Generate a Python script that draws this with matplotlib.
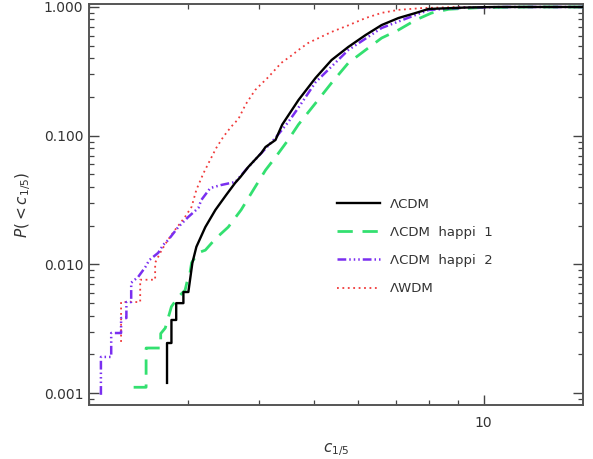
import numpy as np
import matplotlib
matplotlib.use("Agg")
import matplotlib.pyplot as plt
from matplotlib.ticker import FixedLocator, NullFormatter, FormatStrFormatter

# cumulative fractions, (c_1/5, P) pairs
black_x = [2.75, 2.75, 2.80, 2.80, 2.855, 2.855, 2.94, 2.94, 3.00, 3.05, 3.10, 3.215, 3.35, 3.50,
           3.63, 3.71, 3.83, 4.04, 4.11, 4.28, 4.40, 4.70, 5.04, 5.38, 5.76, 6.18, 6.60, 7.07,
           7.58, 7.99, 9.29, 10.6, 15.0]
black_y = [0.00120, 0.00245, 0.00245, 0.0037, 0.0037, 0.0050, 0.0050, 0.0061, 0.0061, 0.0103,
           0.0137, 0.0195, 0.0265, 0.0346, 0.0429, 0.0478, 0.0571, 0.0734, 0.0817, 0.0926,
           0.122, 0.189, 0.281, 0.387, 0.489, 0.605, 0.724, 0.821, 0.898, 0.965, 0.99, 1.0, 1.0]

green_x = [2.40, 2.525, 2.525, 2.68, 2.68, 2.73, 2.80, 2.88, 2.96, 2.99, 3.02, 3.04, 3.12, 3.215,
           3.35, 3.53, 3.72, 3.94, 4.11, 4.28, 4.51, 4.70, 5.04, 5.38, 5.76, 6.18, 6.60, 7.07,
           7.58, 8.09, 8.67, 9.9, 12.0, 15.0]
green_y = [0.00111, 0.00111, 0.00224, 0.00224, 0.0029, 0.0032, 0.0047, 0.0056, 0.0063, 0.0076,
           0.0086, 0.0103, 0.0123, 0.0129, 0.0158, 0.0195, 0.0265, 0.040, 0.054, 0.068, 0.093,
           0.122, 0.179, 0.257, 0.367, 0.463, 0.574, 0.663, 0.792, 0.898, 0.96, 0.99, 1.0, 1.0]

purple_x = [2.10, 2.10, 2.19, 2.19, 2.28, 2.28, 2.33, 2.33, 2.376, 2.376, 2.445, 2.516, 2.558,
            2.653, 2.708, 2.764, 2.879, 3.00, 3.124, 3.162, 3.281, 3.431, 3.634, 3.832, 4.042,
            4.278, 4.512, 4.70, 5.04, 5.76, 6.60, 7.58, 7.99, 9.3, 11.0, 15.0]
purple_y = [0.00097, 0.00191, 0.00191, 0.00293, 0.00293, 0.00383, 0.00383, 0.0051, 0.0051,
            0.0072, 0.0080, 0.0095, 0.0108, 0.0123, 0.0142, 0.0155, 0.0195, 0.0234, 0.0274,
            0.0316, 0.0392, 0.0414, 0.0437, 0.0571, 0.0734, 0.096, 0.128, 0.165, 0.26, 0.463,
            0.687, 0.867, 0.948, 0.99, 1.0, 1.0]

red_x = [2.28, 2.28, 2.465, 2.465, 2.62, 2.62, 2.69, 2.76, 2.84, 2.96, 3.04, 3.10, 3.19, 3.28,
         3.36, 3.46, 3.57, 3.68, 3.79, 3.94, 4.16, 4.38, 4.57, 4.70, 4.89, 5.38, 5.76, 6.18,
         6.60, 7.07, 7.77, 9.0, 15.0]
red_y = [0.0025, 0.0051, 0.0051, 0.0076, 0.0076, 0.0103, 0.0129, 0.0155, 0.0185, 0.0234, 0.028,
         0.038, 0.051, 0.065, 0.080, 0.098, 0.117, 0.135, 0.175, 0.2265, 0.286, 0.367, 0.42,
         0.463, 0.525, 0.64, 0.72, 0.82, 0.90, 0.95, 0.98, 1.0, 1.0]

labels = ["ΛCDM", "ΛCDM  happi  1", "ΛCDM  happi  2", "ΛWDM"]
y_ticks = [0.001, 0.01, 0.1, 1.0]

fig = plt.figure(figsize=(5.93, 4.59), dpi=100)
ax = fig.add_axes([0.150, 0.1176, 0.833, 0.8737])

ax.plot(black_x, black_y, color="black", lw=1.7, label=labels[0], zorder=5)
ax.plot(green_x, green_y, color="#33e070", lw=2.0, dashes=(5.5, 3.5), label=labels[1], zorder=3)
ax.plot(purple_x, purple_y, color="#7a2ff0", lw=1.8,
        dashes=(3.5, 1.2, 0.6, 1.2, 0.6, 1.2, 0.6, 1.2), label=labels[2], zorder=4)
ax.plot(red_x, red_y, color="#f03a3a", lw=1.3, dashes=(1, 2.0), label=labels[3], zorder=2)

ax.set_xscale("log")
ax.set_yscale("log")
ax.set_xlim(2.0, 15.0)
ax.set_ylim(0.000808, 1.055)

ax.xaxis.set_major_locator(FixedLocator([10]))
ax.xaxis.set_minor_locator(FixedLocator([2, 3, 4, 5, 6, 7, 8, 9]))
ax.xaxis.set_minor_formatter(NullFormatter())
ax.xaxis.set_major_formatter(FormatStrFormatter("%d"))
ax.yaxis.set_major_locator(FixedLocator(y_ticks))
ax.yaxis.set_major_formatter(FormatStrFormatter("%.3f"))

ax.tick_params(which="both", direction="in", top=True, right=True, color="#444444",
               labelsize=10, labelcolor="#333333")
ax.tick_params(which="major", length=7, width=1.0)
ax.tick_params(which="minor", length=3.5, width=0.9)
ax.tick_params(axis="x", pad=8)
ax.tick_params(axis="y", pad=4)
for s in ax.spines.values():
    s.set_linewidth(1.4)
    s.set_color("#555555")

ax.set_xlabel(r"$c_{1/5}$", fontsize=11, labelpad=8, color="#333333")
ax.set_ylabel(r"$P(<c_{1/5})$", fontsize=11, labelpad=8, color="#333333")

leg = ax.legend(loc="upper left", bbox_to_anchor=(0.502, 0.517), frameon=False, fontsize=9.5,
                handlelength=3.3, handletextpad=0.75, labelspacing=1.15, borderpad=0,
                borderaxespad=0)
for t in leg.get_texts():
    t.set_color("#333333")

fig.savefig("out.png", dpi=100)
